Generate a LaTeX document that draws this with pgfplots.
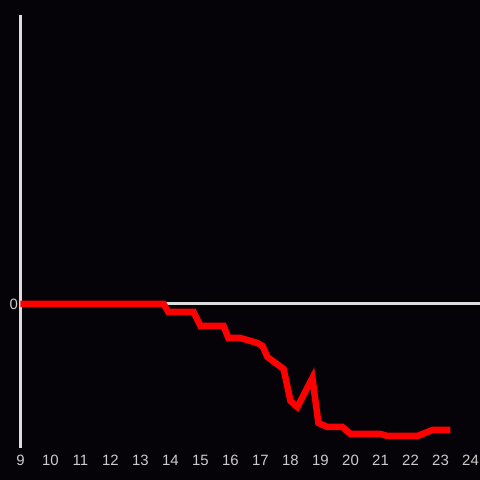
\documentclass[border=0pt]{standalone}
\usepackage{pgfplots}
\pgfplotsset{compat=1.18}
\usepackage{fontspec}
\setmainfont{Liberation Sans}
\definecolor{bg}{RGB}{5,3,8}
\definecolor{axc}{RGB}{221,221,221}
\definecolor{lab}{RGB}{204,204,204}
\begin{document}
\begin{tikzpicture}
\fill[bg] (-20.5bp,-32bp) rectangle (459.5bp,448bp);
\useasboundingbox (-20.5bp,-32bp) rectangle (459.5bp,448bp);
\begin{axis}[
  scale only axis, width=460bp, height=433bp,
  xmin=9, xmax=24.3333, ymin=-144, ymax=289,
  axis lines*=left,
  x axis line style={draw=none},
  y axis line style={draw=axc, line width=3bp},
  xtick={9,10,...,24}, ytick={0},
  major tick length=0pt,
  tick label style={font=\fontsize{15}{17}\selectfont, text=lab},
  /pgf/number format/assume math mode=true,
  xticklabel style={yshift=-4bp},
  yticklabel style={xshift=1bp},
  clip=false,
]
\draw[axc, line width=3bp] (axis cs:9,0) -- (axis cs:24.3333,0);
\addplot[red, line width=6.5bp, mark=none] coordinates {
(9,0) (13.77,0) (13.93,-8) (14.77,-8) (15.0,-22) (15.77,-22) (15.93,-34)
(16.33,-34) (16.9,-39) (17.07,-42) (17.23,-53) (17.77,-65) (18.0,-97)
(18.23,-103) (18.73,-74) (18.93,-119) (19.23,-123) (19.73,-123) (20.0,-130)
(21.0,-130) (21.23,-132) (22.23,-132) (22.73,-126) (23.33,-126)
};
\end{axis}
\end{tikzpicture}
\end{document}
